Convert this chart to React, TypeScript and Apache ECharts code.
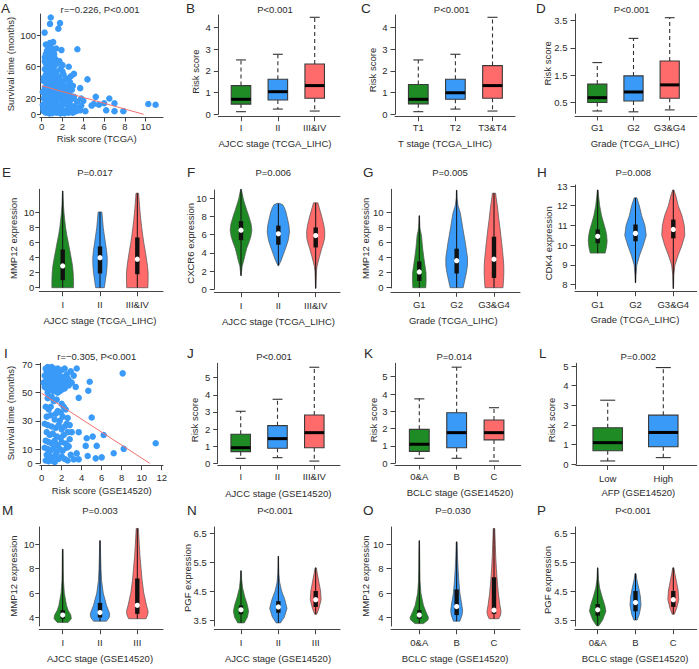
import React, { useEffect, useRef } from "react";
import * as echarts from "echarts";

const FONT = "'Liberation Sans', Arial, Helvetica, sans-serif";
const TXT = "#2b2b2b";
const AX = "#444";
const COLS = ["#1F8B24", "#3A9AF8", "#FF6A6A"];
const BLUE = "#3A9AF8";
const REG = "#F27070";

// ---------- DATA ----------
const catsAJCC = ["I", "II", "III&IV"];
const catsT = ["T1", "T2", "T3&T4"];
const catsGrade = ["G1", "G2", "G3&G4"];
const catsBCLC = ["0&A", "B", "C"];
const catsAFP = ["Low", "High"];
const catsAJCC3 = ["I", "II", "III"];

const scatterA: number[][] = [
  [0.87,122],[0.8,114],[1.76,115],[1.6,108],[0.28,103],[0.8,90],[1.1,91],[3.43,82],
  [0.4,88],[0.6,85],[0.9,84],[0.5,80],[0.7,78],[1.0,79],[1.2,76],[0.4,76],[1.4,83],[0.8,74],[1.9,81],[0.3,72],
  [0.5,70],[0.7,68],[0.9,71],[1.1,66],[1.3,70],[0.4,64],[0.6,62],[0.8,60],[1.0,63],[1.5,64],[1.7,67],[0.3,67],[1.2,61],[2.0,62],[2.6,60],
  [0.3,57],[0.5,55],[0.7,58],[0.9,52],[1.1,56],[1.3,50],[0.4,50],[0.6,47],[0.8,49],[1.0,46],[1.4,54],[1.6,48],[1.8,57],[2.1,50],[2.4,45],[0.2,46],[1.2,45],[2.0,54],[2.8,48],[3.1,51],
  [0.2,42],[0.4,40],[0.6,38],[0.8,43],[1.0,41],[1.2,37],[1.4,35],[1.6,40],[1.8,33],[2.0,38],[2.2,43],[2.5,36],[2.7,41],[0.3,33],[0.5,31],[0.7,35],[0.9,32],[1.1,30],[1.3,43],[1.5,31],[1.7,44],[2.3,32],[3.0,36],[3.7,33],[4.4,44],[2.9,31],
  [0.1,28],[0.3,26],[0.5,24],[0.7,27],[0.9,22],[1.1,25],[1.3,21],[1.5,28],[1.7,19],[1.9,23],[2.1,27],[2.3,17],[2.5,22],[2.7,25],[0.2,20],[0.4,18],[0.6,16],[0.8,19],[1.0,17],[1.2,29],[1.4,16],[1.6,24],[1.8,27],[2.0,15],[2.2,20],[2.8,18],[3.1,22],[3.4,16],[3.8,20],[5.2,22],[6.5,20],[4.0,17],[2.4,29],[0.3,23],[0.6,29],[0.9,15],[1.5,20],
  [0.1,12],[0.3,10],[0.5,8],[0.7,11],[0.9,6],[1.1,9],[1.3,12],[1.5,5],[1.7,10],[1.9,7],[2.1,13],[2.3,4],[2.5,9],[2.7,12],[2.9,6],[3.1,10],[3.3,4],[3.5,8],[0.2,4],[0.4,2],[0.6,5],[0.8,3],[1.0,1.5],[1.2,4],[1.4,2],[1.6,3],[1.8,1],[2.0,3],[2.2,1.5],[2.6,2],[3.0,2],[3.8,11],[4.2,4],[4.8,11],[5.0,13],[5.5,12],[6.0,14],[6.2,5],[7.0,14],[7.0,4],[7.85,4],[10.25,13],[10.95,12],[0.5,14],[1.0,13],[3.7,5],[0.15,7],[0.75,1]
];
const regA = [[0, 36], [9.8, 0]];

const scatterI: number[][] = [
  [0.4,67],[0.6,68],[0.8,67],[1.0,68],[1.2,67],[1.4,66],[1.6,67],[0.5,65],[0.7,64],[0.9,65],[1.1,63],[1.3,64],[1.5,62],[1.7,64],[2.0,66],[2.3,67],[2.5,63],[2.9,65],[3.5,67],
  [0.3,62],[0.6,61],[0.8,60],[1.0,59],[1.2,61],[1.4,58],[1.6,60],[1.8,62],[2.2,61],[2.6,60],[3.2,62],[0.2,57],[0.4,58],[0.7,56],[0.9,57],[1.1,55],[1.3,56],[1.5,54],[1.7,57],[1.9,55],[2.1,58],[2.4,56],[2.8,58],[3.0,57],
  [0.5,53],[0.8,52],[1.0,54],[1.2,51],[1.4,53],[1.6,50],[2.0,52],[2.3,53],[0.3,54],[0.6,50],[1.8,51],[0.9,60],[1.1,66],[1.3,59],[0.5,59],[2.7,55],[3.4,54],
  [8.1,63.6],[4.8,57.7],[4.66,51.3],[3.7,46.3],[5.0,32.4],[3.7,22],[6.2,20],[4.5,17.7],[5.1,18.9],[4.4,12.3],[5.5,12.3],[8.2,10.2],[11.4,14.2],[7.2,7.1],[6.0,4.2],[5.4,3.5],[4.6,5.2],[3.5,7],[3.2,2.8],[3.7,2.8],
  [0.6,46],[1.0,47],[1.5,45],[2.0,42],[2.2,40],[1.2,44],[0.4,40],[0.7,38],[1.6,37],[1.9,36],[2.4,38],[0.5,33],[0.9,34],[1.3,31],[1.8,30],[2.1,33],[2.6,32],[2.5,28],[0.3,28],[0.6,27],[1.0,26],[1.4,25],[1.7,27],[2.0,24],[2.3,26],[2.8,27],
  [0.5,22],[0.8,20],[1.1,21],[1.5,19],[1.9,18],[2.2,20],[2.6,22],[0.4,16],[0.7,15],[1.0,14],[1.3,16],[1.6,13],[2.0,15],[2.4,14],[2.8,17],[0.3,11],[0.6,10],[0.9,9],[1.2,11],[1.5,8],[1.8,10],[2.1,9],[2.5,11],
  [0.5,6],[0.8,5],[1.1,4],[1.4,6],[1.7,3],[2.0,5],[2.3,3],[0.4,2],[0.7,1.5],[1.0,2],[1.3,1],[2.6,2],[2.9,6],[0.9,40],[1.4,35],[3.0,22],[2.7,12]
];
const regI = [[0, 49.5], [10.8, 0]];

// box plots: [low whisker, Q1, median, Q3, high whisker]
const boxB = [[0.12,0.47,0.69,1.32,2.50],[0.24,0.66,1.04,1.61,2.76],[0.15,0.74,1.32,2.31,4.46]];
const boxC = [[0.12,0.48,0.69,1.37,2.50],[0.24,0.69,0.99,1.61,2.76],[0.15,0.74,1.32,2.24,4.46]];
const boxD = [[0.18,0.49,0.67,1.17,1.96],[0.15,0.55,0.88,1.47,2.85],[0.22,0.65,1.14,2.02,3.61]];
const boxJ = [[0.29,0.68,0.91,1.70,3.04],[0.33,0.88,1.44,2.20,3.74],[0.13,0.91,1.79,2.82,5.61]];
const boxK = [[0.29,0.69,1.10,1.96,3.72],[0.29,0.90,1.77,2.92,5.55],[0.13,1.35,1.77,2.50,3.21]];
const boxL = [[0.17,0.69,1.10,1.86,3.26],[0.34,0.89,1.62,2.50,4.92]];

// violins: inner box [min, Q1, median, Q3, max] and density profile [value, relative half-width]
const vioStatsE = [[0,1.0,2.9,5.1,12.9],[0,1.9,4.0,5.5,10.1],[0,1.8,3.8,6.7,12.6]];
const vioDensE = [
  [[0,1.0],[1,1.0],[2,0.97],[3,0.9],[4,0.78],[5,0.65],[6,0.52],[7,0.38],[8,0.27],[9,0.19],[10,0.12],[11,0.07],[12,0.04],[12.9,0.02]],
  [[0,0.4],[1,0.5],[2,0.6],[3,0.66],[4,0.67],[5,0.6],[6,0.5],[7,0.4],[8,0.3],[9,0.24],[10,0.18],[10.1,0.16]],
  [[0,0.98],[1,1.0],[2,1.0],[3,0.93],[4,0.83],[5,0.72],[6,0.6],[7,0.5],[8,0.41],[9,0.33],[10,0.26],[11,0.2],[12,0.15],[12.6,0.12]]
];
const vioStatsF = [[1.5,5.4,6.5,7.5,11.0],[2.6,4.9,6.1,7.0,9.4],[0.1,4.6,5.9,6.8,9.5]];
const vioDensF = [
  [[1.5,0.02],[2.5,0.1],[3.2,0.26],[4,0.42],[4.5,0.53],[5.2,0.75],[5.8,0.91],[6.5,1.0],[7.2,0.93],[7.6,0.83],[8.2,0.68],[8.7,0.53],[9.2,0.4],[9.6,0.29],[10,0.2],[10.5,0.12],[11,0.02]],
  [[2.6,0.03],[3.2,0.27],[3.8,0.45],[4.3,0.6],[4.9,0.78],[5.4,0.91],[6.3,1.03],[7.0,0.98],[7.4,0.91],[8.0,0.8],[8.5,0.7],[9.0,0.55],[9.3,0.4],[9.45,0.1]],
  [[0.1,0.02],[1,0.04],[2,0.07],[2.5,0.12],[3,0.22],[3.6,0.35],[4.5,0.56],[5.0,0.7],[5.6,0.82],[6.3,0.84],[7.0,0.76],[7.4,0.68],[8.0,0.56],[8.5,0.44],[9.0,0.32],[9.5,0.2]]
];
const vioStatsG = [[0,0.9,2.1,3.5,9.6],[0,1.9,3.6,5.2,13.0],[0,1.3,3.8,6.8,12.6]];
const vioDensG = [
  [[0,0.6],[1,0.63],[2,0.62],[3,0.52],[4,0.42],[5,0.33],[6,0.26],[7,0.2],[7.5,0.12],[8,0.06],[9,0.03],[9.6,0.02]],
  [[0,0.6],[1,0.75],[2,0.9],[3,1.0],[4,1.0],[5,0.9],[6,0.8],[7,0.68],[8,0.56],[9,0.45],[10,0.33],[10.5,0.22],[11,0.12],[12,0.04],[13,0.02]],
  [[0,0.83],[1,0.88],[2,0.91],[3,0.9],[4,0.85],[5,0.78],[6,0.71],[7,0.63],[8,0.55],[9,0.46],[10,0.38],[11,0.3],[12,0.2],[12.6,0.15]]
];
const vioStatsH = [[9.6,10.1,10.45,10.8,12.8],[8.1,10.2,10.6,11.05,12.4],[7.8,10.35,10.8,11.3,12.8]];
const vioDensH = [
  [[9.6,0.68],[9.9,0.8],[10.2,0.86],[10.5,0.82],[10.8,0.71],[11.2,0.5],[11.5,0.35],[12,0.18],[12.5,0.08],[12.8,0.03]],
  [[8.1,0.02],[8.5,0.05],[9,0.12],[9.5,0.38],[10,0.71],[10.5,0.98],[11,0.86],[11.5,0.56],[12,0.35],[12.4,0.12]],
  [[7.8,0.02],[8.5,0.05],[9,0.15],[9.5,0.45],[10,0.79],[10.5,1.05],[11,1.0],[11.5,0.79],[12,0.45],[12.5,0.23],[12.8,0.05]]
];
const vioStatsM = [[3.6,3.9,4.2,4.6,9.6],[3.7,4.0,4.4,5.2,10.3],[3.9,4.3,5.0,7.2,11.3]];
const vioDensM = [
  [[3.6,0.5],[3.9,0.8],[4.2,0.75],[4.6,0.5],[5,0.35],[6,0.15],[7,0.07],[8,0.05],[9,0.04],[9.6,0.03]],
  [[3.7,0.6],[4.0,0.85],[4.3,0.9],[5,0.6],[6,0.3],[7,0.15],[8,0.09],[9,0.06],[10,0.04],[10.3,0.03]],
  [[3.9,0.8],[4.2,0.95],[4.5,1.0],[5,0.85],[6,0.6],[7,0.45],[8,0.35],[9,0.25],[10,0.18],[11,0.12],[11.3,0.1]]
];
const vioStatsN = [[3.4,3.7,3.85,4.0,5.2],[3.4,3.75,3.95,4.15,5.7],[3.7,3.95,4.2,4.5,5.3]];
const vioDensN = [
  [[3.4,0.3],[3.6,0.6],[3.8,0.7],[4.0,0.6],[4.3,0.35],[4.6,0.15],[4.9,0.06],[5.2,0.02]],
  [[3.4,0.2],[3.6,0.55],[3.9,0.8],[4.2,0.6],[4.5,0.3],[4.8,0.12],[5.1,0.05],[5.4,0.03],[5.7,0.02]],
  [[3.7,0.1],[3.9,0.3],[4.2,0.5],[4.5,0.45],[4.8,0.3],[5.1,0.15],[5.3,0.05]]
];
const vioStatsO = [[3.5,3.9,4.2,4.6,10.3],[3.7,4.2,4.9,6.3,10.2],[3.9,4.3,4.6,7.3,11.3]];
const vioDensO = [
  [[3.5,0.4],[3.8,0.8],[4.0,0.85],[4.5,0.6],[5,0.38],[6,0.15],[7,0.07],[8,0.05],[9,0.04],[10.3,0.02]],
  [[3.7,0.3],[4.2,0.5],[4.6,0.55],[5.2,0.45],[6,0.3],[7,0.2],[8,0.13],[9,0.08],[10.2,0.04]],
  [[3.9,0.45],[4.2,0.6],[4.5,0.65],[5,0.55],[6,0.4],[7,0.3],[8,0.22],[9,0.16],[10,0.12],[11,0.08],[11.3,0.07]]
];
const vioStatsP = [[3.3,3.65,3.85,4.05,5.3],[3.5,3.8,4.1,4.5,5.1],[3.7,3.95,4.2,4.5,5.3]];
const vioDensP = [
  [[3.3,0.1],[3.5,0.45],[3.8,0.75],[4.0,0.65],[4.3,0.4],[4.6,0.18],[4.9,0.07],[5.3,0.02]],
  [[3.5,0.15],[3.7,0.35],[4.0,0.5],[4.3,0.45],[4.6,0.3],[4.9,0.12],[5.1,0.05]],
  [[3.7,0.1],[3.9,0.3],[4.2,0.5],[4.5,0.45],[4.8,0.3],[5.1,0.14],[5.3,0.05]]
];

// ---------- LAYOUT ----------
type Panel = {
  kind: "scatter" | "box" | "violin";
  letter: string; lx: number; ly: number;
  yx: number; top: number; yb: number; xy: number; xr: number;
  ycal: number[]; xcal: number[];
  yTicks: number[]; xTicks: number[]; xLabels?: string[];
  yTickLen?: number; yLabM?: number; xLabC: number;
  title: string; tx: number; ty: number;
  xName: string; xnx: number; xny: number;
  yName: string; ynx: number; yny: number;
  points?: number[][]; reg?: number[][];
  boxes?: number[][]; stats?: number[][]; dens?: number[][][];
};

const rng = (a: number, b: number) => { const r: number[] = []; for (let v = a; v <= b; v++) r.push(v); return r; };

const PANELS: Panel[] = [
  { kind: "scatter", letter: "A", lx: 1, ly: 1, yx: 40, top: 14, yb: 114.3, xy: 117, xr: 163,
    ycal: [0, 114.3, 100, 35], xcal: [0, 41.7, 10, 145.7], yTicks: [0, 20, 60, 100], xTicks: [0, 2, 4, 6, 8, 10],
    yTickLen: 3, yLabM: 4, xLabC: 126.5, title: "r=−0.226, P<0.001", tx: 100, ty: 9.5,
    xName: "Risk score (TCGA)", xnx: 96.7, xny: 138.5, yName: "Survival time (months)", ynx: 10, yny: 64,
    points: scatterA, reg: regA },
  { kind: "box", letter: "B", lx: 186, ly: 1, yx: 218.3, top: 15, yb: 114.3, xy: 116.7, xr: 340,
    ycal: [0, 114.3, 4, 27.3], xcal: [1, 241, 3, 314.7], yTicks: rng(0, 4), xTicks: [1, 2, 3], xLabels: catsAJCC,
    xLabC: 127.7, title: "P<0.001", tx: 275, ty: 9.5,
    xName: "AJCC stage (TCGA_LIHC)", xnx: 275, xny: 143, yName: "Risk score", ynx: 195.7, yny: 71.7, boxes: boxB },
  { kind: "box", letter: "C", lx: 361, ly: 1, yx: 395, top: 15, yb: 114.3, xy: 116.7, xr: 515,
    ycal: [0, 114.3, 4, 27.3], xcal: [1, 418.3, 3, 492.5], yTicks: rng(0, 4), xTicks: [1, 2, 3], xLabels: catsT,
    xLabC: 127.7, title: "P<0.001", tx: 451.7, ty: 9.5,
    xName: "T stage (TCGA_LIHC)", xnx: 445, xny: 143, yName: "Risk score", ynx: 372.7, yny: 70, boxes: boxC },
  { kind: "box", letter: "D", lx: 536, ly: 1, yx: 575, top: 14, yb: 113.3, xy: 116, xr: 696.7,
    ycal: [0.5, 102.3, 3.5, 20.7], xcal: [1, 597.3, 3, 669.7], yTicks: [0.5, 1.5, 2.5, 3.5], xTicks: [1, 2, 3], xLabels: catsGrade,
    xLabC: 127.7, title: "P<0.001", tx: 631.7, ty: 9.5,
    xName: "Grade (TCGA_LIHC)", xnx: 635, xny: 143.3, yName: "Risk score", ynx: 547.7, yny: 63.3, boxes: boxD },

  { kind: "violin", letter: "E", lx: 2, ly: 165, yx: 39.3, top: 189.3, yb: 288, xy: 291.7, xr: 163,
    ycal: [0, 287.7, 10, 212.7], xcal: [1, 62.7, 3, 137.3], yTicks: [0, 2, 4, 6, 8, 10], xTicks: [1, 2, 3], xLabels: catsAJCC,
    yTickLen: 4, yLabM: 5, xLabC: 304, title: "P=0.017", tx: 95, ty: 172.7,
    xName: "AJCC stage (TCGA_LIHC)", xnx: 100, xny: 320.7, yName: "MMP12 expression", ynx: 13.3, yny: 238.3,
    stats: vioStatsE, dens: vioDensE },
  { kind: "violin", letter: "F", lx: 187, ly: 165, yx: 214.3, top: 190, yb: 289.3, xy: 292.7, xr: 340,
    ycal: [0, 289.3, 10, 198.3], xcal: [1, 241, 3, 315.7], yTicks: [0, 2, 4, 6, 8, 10], xTicks: [1, 2, 3], xLabels: catsAJCC,
    xLabC: 305.7, title: "P=0.006", tx: 273.3, ty: 172.7,
    xName: "AJCC stage (TCGA_LIHC)", xnx: 278.5, xny: 321.7, yName: "CXCR6 expression", ynx: 190, yny: 243.3,
    stats: vioStatsF, dens: vioDensF },
  { kind: "violin", letter: "G", lx: 363, ly: 165, yx: 391, top: 189.3, yb: 288, xy: 292.3, xr: 520,
    ycal: [0, 287.7, 10, 212.7], xcal: [1, 419.3, 3, 494], yTicks: [0, 2, 4, 6, 8, 10], xTicks: [1, 2, 3], xLabels: catsGrade,
    xLabC: 304, title: "P=0.005", tx: 450, ty: 172.7,
    xName: "Grade (TCGA_LIHC)", xnx: 453.3, xny: 320.7, yName: "MMP12 expression", ynx: 365, yny: 238.3,
    stats: vioStatsG, dens: vioDensG },
  { kind: "violin", letter: "H", lx: 537, ly: 165, yx: 575, top: 185, yb: 289, xy: 291.7, xr: 696.7,
    ycal: [8, 284.7, 13, 186], xcal: [1, 597.7, 3, 673.3], yTicks: [8, 9, 10, 11, 12, 13], xTicks: [1, 2, 3], xLabels: catsGrade,
    xLabC: 304, title: "P=0.008", tx: 633.3, ty: 172.7,
    xName: "Grade (TCGA_LIHC)", xnx: 635, xny: 319.3, yName: "CDK4 expression", ynx: 548.3, yny: 243.3,
    stats: vioStatsH, dens: vioDensH },

  { kind: "scatter", letter: "I", lx: 4, ly: 346, yx: 40, top: 363.3, yb: 463.3, xy: 465.7, xr: 163,
    ycal: [0, 463.3, 70, 364.3], xcal: [0, 41.7, 12, 161.7], yTicks: [0, 10, 30, 50, 70], xTicks: [0, 2, 4, 6, 8, 10, 12],
    xLabC: 477.7, title: "r=−0.305, P<0.001", tx: 96.7, ty: 356,
    xName: "Risk score (GSE14520)", xnx: 101.7, xny: 490, yName: "Survival time (months)", ynx: 10, yny: 413,
    points: scatterI, reg: regI },
  { kind: "box", letter: "J", lx: 187, ly: 346, yx: 217.7, top: 363.3, yb: 463.3, xy: 465, xr: 340,
    ycal: [0, 463.3, 5, 377.7], xcal: [1, 240.7, 3, 314.3], yTicks: rng(0, 5), xTicks: [1, 2, 3], xLabels: catsAJCC,
    xLabC: 476.7, title: "P<0.001", tx: 274, ty: 356,
    xName: "AJCC stage (GSE14520)", xnx: 278.3, xny: 493.3, yName: "Risk score", ynx: 194.3, yny: 420, boxes: boxJ },
  { kind: "box", letter: "K", lx: 364, ly: 346, yx: 395, top: 363.3, yb: 463.3, xy: 465, xr: 520.7,
    ycal: [0, 463.3, 5, 376.7], xcal: [1, 419.3, 3, 494], yTicks: rng(0, 5), xTicks: [1, 2, 3], xLabels: catsBCLC,
    xLabC: 476.7, title: "P=0.014", tx: 454.3, ty: 356,
    xName: "BCLC stage (GSE14520)", xnx: 460, xny: 492.7, yName: "Risk score", ynx: 373.3, yny: 420, boxes: boxK },
  { kind: "box", letter: "L", lx: 539, ly: 346, yx: 576, top: 363.3, yb: 464.3, xy: 465.5, xr: 696.7,
    ycal: [0, 464.3, 5, 366], xcal: [1, 607.7, 2, 663.3], yTicks: rng(0, 5), xTicks: [1, 2], xLabels: catsAFP,
    xLabC: 478.3, title: "P=0.002", tx: 638.3, ty: 356,
    xName: "AFP (GSE14520)", xnx: 638.3, xny: 492.7, yName: "Risk score", ynx: 551, yny: 420, boxes: boxL },

  { kind: "violin", letter: "M", lx: 2, ly: 503, yx: 39.3, top: 527, yb: 626, xy: 629.7, xr: 163,
    ycal: [4, 617.5, 10, 544.3], xcal: [1, 62.7, 3, 137.3], yTicks: [4, 6, 8, 10], xTicks: [1, 2, 3], xLabels: catsAJCC3,
    yTickLen: 4, yLabM: 5, xLabC: 642, title: "P=0.003", tx: 100, ty: 510.7,
    xName: "AJCC stage (GSE14520)", xnx: 100, xny: 658.7, yName: "MMP12 expression", ynx: 13.3, yny: 576,
    stats: vioStatsM, dens: vioDensM },
  { kind: "violin", letter: "N", lx: 187, ly: 503, yx: 214.3, top: 527, yb: 626, xy: 629.7, xr: 340,
    ycal: [3.5, 620, 6.5, 533], xcal: [1, 241, 3, 315.7], yTicks: [3.5, 4.5, 5.5, 6.5], xTicks: [1, 2, 3], xLabels: catsAJCC3,
    xLabC: 642, title: "P<0.001", tx: 275, ty: 510.7,
    xName: "AJCC stage (GSE14520)", xnx: 278, xny: 658.7, yName: "PGF expression", ynx: 187.5, yny: 578,
    stats: vioStatsN, dens: vioDensN },
  { kind: "violin", letter: "O", lx: 363, ly: 503, yx: 391, top: 527, yb: 626, xy: 629.7, xr: 520,
    ycal: [4, 617.5, 10, 544.3], xcal: [1, 419.3, 3, 494], yTicks: [4, 6, 8, 10], xTicks: [1, 2, 3], xLabels: catsBCLC,
    xLabC: 642, title: "P=0.030", tx: 453, ty: 510.7,
    xName: "BCLC stage (GSE14520)", xnx: 455, xny: 658.7, yName: "MMP12 expression", ynx: 365, yny: 576,
    stats: vioStatsO, dens: vioDensO },
  { kind: "violin", letter: "P", lx: 537, ly: 503, yx: 575, top: 527, yb: 626, xy: 629.7, xr: 696.7,
    ycal: [3.5, 620, 6.5, 533], xcal: [1, 597.7, 3, 673.3], yTicks: [3.5, 4.5, 5.5, 6.5], xTicks: [1, 2, 3], xLabels: catsBCLC,
    xLabC: 642, title: "P<0.001", tx: 633, ty: 510.7,
    xName: "BCLC stage (GSE14520)", xnx: 635, xny: 658.7, yName: "PGF expression", ynx: 547, yny: 580,
    stats: vioStatsP, dens: vioDensP },
];

const FS = 9.5;
const BOX_W = 0.53;
const CAP_W = 0.27;
const VIO_W = 0.29;

function text(x: number, y: number, s: string, opts: any = {}) {
  return {
    type: "text", x, y, rotation: opts.rot || 0, silent: true,
    style: {
      text: s, fill: TXT, fontSize: opts.size || FS, fontFamily: FONT,
      textAlign: opts.align || "center", textVerticalAlign: opts.valign || "middle",
    },
  };
}

function buildOption() {
  const grid: any[] = [], xAxis: any[] = [], yAxis: any[] = [], series: any[] = [], graphic: any[] = [];
  PANELS.forEach((p, i) => {
    const ys = (p.ycal[3] - p.ycal[1]) / (p.ycal[2] - p.ycal[0]);
    const yAt = (px: number) => p.ycal[0] + (px - p.ycal[1]) / ys;
    const xs = (p.xcal[3] - p.xcal[1]) / (p.xcal[2] - p.xcal[0]);
    const xAt = (px: number) => p.xcal[0] + (px - p.xcal[1]) / xs;
    grid.push({ left: p.yx, top: p.top, width: p.xr - p.yx, height: p.yb - p.top, containLabel: false, outerBoundsMode: "none" });
    const labels = p.xLabels;
    xAxis.push({
      type: "value", gridIndex: i, min: xAt(p.yx), max: xAt(p.xr), offset: p.xy - p.yb,
      axisLine: { show: true, onZero: false, lineStyle: { color: AX, width: 1 } },
      axisTick: { show: true, length: 4.5, customValues: p.xTicks, lineStyle: { color: AX, width: 1 } },
      axisLabel: {
        show: true, customValues: p.xTicks, margin: p.xLabC - p.xy - 4.75,
        formatter: labels ? (v: number) => labels[Math.round(v) - 1] : (v: number) => String(v),
        fontSize: FS, color: TXT, fontFamily: FONT,
      },
      splitLine: { show: false },
    });
    yAxis.push({
      type: "value", gridIndex: i, min: yAt(p.yb), max: yAt(p.top),
      axisLine: { show: true, onZero: false, lineStyle: { color: AX, width: 1 } },
      axisTick: { show: true, length: p.yTickLen || 4.5, customValues: p.yTicks, lineStyle: { color: AX, width: 1 } },
      axisLabel: { show: true, customValues: p.yTicks, margin: p.yLabM || 7.5, fontSize: FS, color: TXT, fontFamily: FONT },
      splitLine: { show: false },
    });

    if (p.kind === "scatter") {
      series.push({
        type: "scatter", xAxisIndex: i, yAxisIndex: i, data: p.points, symbolSize: 6.5, clip: false,
        itemStyle: { color: BLUE, opacity: 1, borderWidth: 0 }, silent: true,
      });
      series.push({
        type: "line", xAxisIndex: i, yAxisIndex: i, data: p.reg, symbol: "none", clip: false,
        lineStyle: { color: REG, width: 1 }, silent: true, z: 3,
      });
    } else if (p.kind === "box") {
      series.push({
        type: "custom", xAxisIndex: i, yAxisIndex: i, clip: false, silent: true,
        data: (p.boxes as number[][]).map((b, k) => [k + 1, ...b]),
        renderItem: (params: any, api: any) => {
          const k = params.dataIndex;
          const x = api.value(0);
          const lo = api.value(1), q1 = api.value(2), med = api.value(3), q3 = api.value(4), hi = api.value(5);
          const c = (dx: number, v: number) => api.coord([x + dx, v]);
          const pHi = c(0, hi), pLo = c(0, lo), pQ1 = c(0, q1), pQ3 = c(0, q3);
          const bl = c(-BOX_W / 2, q3), br = c(BOX_W / 2, q1);
          const ml = c(-BOX_W / 2, med), mr = c(BOX_W / 2, med);
          const cl = c(-CAP_W / 2, hi), cr = c(CAP_W / 2, hi);
          const dl = c(-CAP_W / 2, lo), dr = c(CAP_W / 2, lo);
          const ws = { stroke: "#333", lineWidth: 1.1, lineDash: [4, 3] };
          return {
            type: "group",
            children: [
              { type: "line", shape: { x1: pQ3[0], y1: pQ3[1], x2: pHi[0], y2: pHi[1] }, style: ws },
              { type: "line", shape: { x1: pQ1[0], y1: pQ1[1], x2: pLo[0], y2: pLo[1] }, style: ws },
              { type: "line", shape: { x1: cl[0], y1: cl[1], x2: cr[0], y2: cr[1] }, style: { stroke: "#333", lineWidth: 1.1 } },
              { type: "line", shape: { x1: dl[0], y1: dl[1], x2: dr[0], y2: dr[1] }, style: { stroke: "#333", lineWidth: 1.1 } },
              { type: "rect", shape: { x: bl[0], y: bl[1], width: br[0] - bl[0], height: br[1] - bl[1] },
                style: { fill: COLS[k], stroke: "#3a3a3a", lineWidth: 1.1 } },
              { type: "line", shape: { x1: ml[0], y1: ml[1], x2: mr[0], y2: mr[1] }, style: { stroke: "#000", lineWidth: 3 } },
            ],
          };
        },
      });
    } else {
      const dens = p.dens as number[][][];
      series.push({
        type: "custom", xAxisIndex: i, yAxisIndex: i, clip: false, silent: true,
        data: (p.stats as number[][]).map((b, k) => [k + 1, ...b]),
        renderItem: (params: any, api: any) => {
          const k = params.dataIndex;
          const x = api.value(0);
          const lo = api.value(1), q1 = api.value(2), med = api.value(3), q3 = api.value(4), hi = api.value(5);
          const prof = dens[k];
          const right = prof.map(([v, d]) => api.coord([x + d * VIO_W, v]));
          const left = prof.slice().reverse().map(([v, d]) => api.coord([x - d * VIO_W, v]));
          const pLo = api.coord([x, lo]), pHi = api.coord([x, hi]);
          const pQ1 = api.coord([x, q1]), pQ3 = api.coord([x, q3]), pM = api.coord([x, med]);
          return {
            type: "group",
            children: [
              { type: "polygon", shape: { points: [...right, ...left] }, style: { fill: COLS[k], stroke: "#505050", lineWidth: 0.7 } },
              { type: "line", shape: { x1: pLo[0], y1: pLo[1], x2: pHi[0], y2: pHi[1] }, style: { stroke: "#111", lineWidth: 1 } },
              { type: "rect", shape: { x: pQ3[0] - 2.2, y: pQ3[1], width: 4.4, height: pQ1[1] - pQ3[1] }, style: { fill: "#111" } },
              { type: "circle", shape: { cx: pM[0], cy: pM[1], r: 2.6 }, style: { fill: "#fff" } },
            ],
          };
        },
      });
    }

    graphic.push(text(p.lx, p.ly, p.letter, { size: 13.5, align: "left", valign: "top" }));
    graphic.push(text(p.tx, p.ty, p.title));
    graphic.push(text(p.xnx, p.xny, p.xName));
    graphic.push(text(p.ynx, p.yny, p.yName, { rot: Math.PI / 2 }));
  });
  return { animation: false, backgroundColor: "#fff", grid, xAxis, yAxis, series, graphic };
}

export default function App() {
  const ref = useRef<HTMLDivElement>(null);
  useEffect(() => {
    if (!ref.current) return;
    const chart = echarts.init(ref.current, undefined, { renderer: "svg" });
    chart.setOption(buildOption() as any);
    return () => chart.dispose();
  }, []);
  return (
    <div
      ref={ref}
      style={{ position: "absolute", left: 0, top: 0, width: 699, height: 669, background: "#fff" }}
    />
  );
}
